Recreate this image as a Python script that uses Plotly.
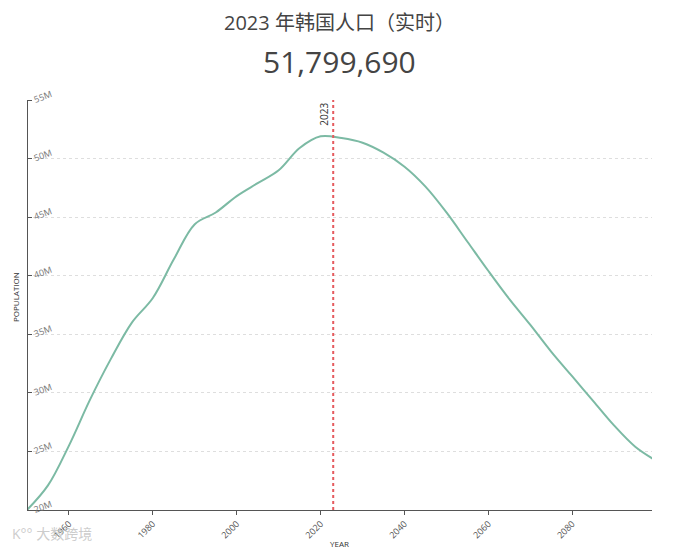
import plotly.graph_objects as go

# Population of South Korea (millions)
years = [1950, 1955, 1960, 1965, 1970, 1975, 1980, 1985, 1990, 1995, 2000,
         2005, 2010, 2015, 2020, 2025, 2030, 2035, 2040, 2045, 2050,
         2055, 2060, 2065, 2070, 2075, 2080, 2085, 2090, 2095, 2100]
population_m = [20.0, 22.1, 25.5, 29.4, 32.9, 36.0, 38.1, 41.4, 44.4, 45.4, 46.8,
                47.9, 49.0, 50.9, 51.9, 51.75, 51.35, 50.5, 49.3, 47.6, 45.4,
                42.9, 40.4, 38.0, 35.8, 33.5, 31.4, 29.3, 27.2, 25.4, 24.2]

x_ticks = [1960, 1980, 2000, 2020, 2040, 2060, 2080]
y_ticks = [20, 25, 30, 35, 40, 45, 50, 55]
y_tick_labels = [f"{v}M" for v in y_ticks]

current_year = 2023
title_text = "2023 年韩国人口（实时）"
count_text = "51,799,690"

FONT = "Open Sans, Noto Sans CJK SC, sans-serif"

# the page body adds an 8px offset, so the figure is a bit smaller
OFF = 8
W, H = 692 - OFF, 549 - OFF
M_L, M_R, M_T, M_B = 27 - OFF, 40, 100 - OFF, 39
plot_w = W - M_L - M_R
plot_h = H - M_T - M_B


def px_to_paper(x, y):
    """convert a window pixel position to paper coords"""
    fx = x - OFF
    fy = y - OFF
    return (fx - M_L) / plot_w, (H - M_B - fy) / plot_h


fig = go.Figure()

fig.add_trace(go.Scatter(
    x=years,
    y=population_m,
    mode="lines",
    line=dict(color="#7cbaa4", width=2, shape="spline", smoothing=1.0),
    hoverinfo="skip",
    showlegend=False,
))

# Current year marker
fig.add_shape(
    type="line", xref="x", yref="paper",
    x0=current_year, x1=current_year, y0=0, y1=1,
    line=dict(color="#e55a5e", width=2, dash="dot"),
)
fig.add_annotation(
    x=current_year, y=1, xref="x", yref="paper",
    text=str(current_year), textangle=-90,
    xanchor="right", yanchor="top", showarrow=False, xshift=-1, yshift=-1,
    font=dict(size=10, color="#333", family=FONT),
)

# Headline texts
px, py = px_to_paper(340, 22)
fig.add_annotation(
    x=0.5, y=py, xref="paper", yref="paper", text=title_text,
    xanchor="center", yanchor="middle",
    showarrow=False, font=dict(size=20, color="#444", family=FONT),
)
px, py = px_to_paper(340, 62)
fig.add_annotation(
    x=0.5, y=py, xref="paper", yref="paper", text=count_text,
    xanchor="center", yanchor="middle",
    showarrow=False, font=dict(size=30, color="#444", family=FONT),
)

# Axis titles
px, py = px_to_paper(15, 297)
fig.add_annotation(
    x=px, y=py, xref="paper", yref="paper", text="POPULATION", textangle=-90,
    xanchor="center", yanchor="middle",
    showarrow=False, font=dict(size=8, color="#333", family=FONT),
)
px, py = px_to_paper(339, 543)
fig.add_annotation(
    x=px, y=py, xref="paper", yref="paper", text="YEAR",
    xanchor="center", yanchor="middle",
    showarrow=False, font=dict(size=8, color="#333", family=FONT),
)

# Watermark
px, py = px_to_paper(10, 533)
fig.add_annotation(
    x=px, y=py, xref="paper", yref="paper", text="K°° 大数跨境",
    xanchor="left", yanchor="middle", showarrow=False,
    font=dict(size=14, color="rgba(195,195,195,0.85)", family=FONT),
)

fig.update_layout(
    width=W,
    height=H,
    margin=dict(l=M_L, r=M_R, t=M_T, b=M_B),
    paper_bgcolor="white",
    plot_bgcolor="white",
    font=dict(family=FONT, color="#555"),
    xaxis=dict(
        range=[1950, 2099],
        tickvals=x_ticks,
        tickangle=-45,
        ticks="outside",
        ticklen=4,
        tickcolor="#555",
        tickfont=dict(size=9, color="#555"),
        showgrid=False,
        zeroline=False,
        showline=True,
        linecolor="#555",
        linewidth=1,
        automargin=False,
    ),
    yaxis=dict(
        range=[20, 55],
        tickvals=y_ticks,
        ticktext=y_tick_labels,
        side="right",
        anchor="free",
        position=0,
        ticks="outside",
        ticklen=4,
        tickcolor="#555",
        tickangle=-20,
        tickfont=dict(size=9, color="#777"),
        showgrid=True,
        gridcolor="#dedede",
        griddash="dot",
        zeroline=False,
        showline=True,
        linecolor="#555",
        linewidth=1,
        automargin=False,
    ),
)

fig.write_html("out.html")
